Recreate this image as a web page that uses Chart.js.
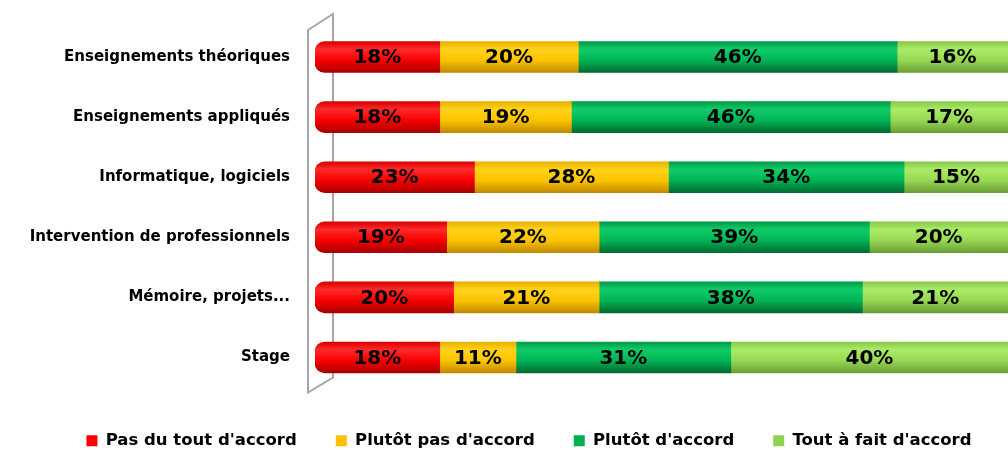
<!DOCTYPE html>
<html>
<head>
<meta charset="utf-8">
<script src="https://cdn.jsdelivr.net/npm/chart.js@4"></script>
<style>
    html, body { margin: 0; padding: 0; background: #fff; overflow: hidden; }
    #wrap { width: 1058px; height: 450px; }
</style>
</head>
<body>
<div id="wrap"><canvas id="myChart"></canvas></div>
<script>
    // Data
    var categories = ["Enseignements théoriques", "Enseignements appliqués", "Informatique, logiciels",
        "Intervention de professionnels", "Mémoire, projets...", "Stage"];
    var seriesNames = ["Pas du tout d'accord", "Plutôt pas d'accord", "Plutôt d'accord", "Tout à fait d'accord"];
    var pasDuTout = [18, 18, 23, 19, 20, 18];
    var plutotPas = [20, 19, 28, 22, 21, 11];
    var plutotAccord = [46, 46, 34, 39, 38, 31];
    var toutAFait = [16, 17, 15, 20, 21, 40];

    var FONT = "'DejaVu Sans', sans-serif";
    var BAR = 31;

    // cylinder shading: top, light, middle, bottom
    var shades = [
        ["#d80000", "#ff2a2a", "#f80000", "#a80000"],
        ["#e8b000", "#ffd21a", "#fcc400", "#c08a00"],
        ["#009a46", "#10cc68", "#00b456", "#006a30"],
        ["#86c84c", "#aaec64", "#98d854", "#6a9e34"]
    ];
    var flat = ["#ff0000", "#ffc000", "#00b050", "#92d050"];

    function cylinder(i) {
        return function (context) {
            var chart = context.chart;
            if (!chart.chartArea || context.dataIndex === undefined) return flat[i];
            var y = chart.scales.y.getPixelForValue(context.dataIndex);
            var g = chart.ctx.createLinearGradient(0, y - BAR / 2, 0, y + BAR / 2);
            g.addColorStop(0, shades[i][0]);
            g.addColorStop(0.25, shades[i][1]);
            g.addColorStop(0.6, shades[i][2]);
            g.addColorStop(1, shades[i][3]);
            return g;
        };
    }

    // back wall of the 3D frame, and nudge the legend a bit right / down
    var wallPlugin = {
        id: 'wall',
        afterLayout: function (chart) {
            var lg = chart.legend;
            lg.left += 25; lg.right += 25;
            lg.top += 6; lg.bottom += 6;
        },
        beforeDatasetsDraw: function (chart) {
            var a = chart.chartArea;
            var c = chart.ctx;
            var l = a.left - 7, r = a.left + 18;
            c.save();
            c.strokeStyle = "#a6a6a6";
            c.lineWidth = 2;
            c.beginPath();
            c.moveTo(l, a.top + 3);
            c.lineTo(r, a.top - 13);
            c.lineTo(r, a.bottom - 10);
            c.lineTo(l, a.bottom + 5);
            c.closePath();
            c.stroke();
            c.restore();
        }
    };

    // percent labels in the middle of each segment
    var labelPlugin = {
        id: 'pctLabels',
        afterDatasetsDraw: function (chart) {
            var c = chart.ctx;
            c.save();
            c.font = "bold 20px " + FONT;
            c.fillStyle = "#000";
            c.textAlign = "center";
            c.textBaseline = "middle";
            chart.data.datasets.forEach(function (ds, i) {
                chart.getDatasetMeta(i).data.forEach(function (el, j) {
                    var p = el.getProps(['x', 'y', 'base'], true);
                    c.fillText(ds.data[j] + "%", (p.x + p.base) / 2, p.y + 1);
                });
            });
            c.restore();
        }
    };

    var allSeries = [pasDuTout, plutotPas, plutotAccord, toutAFait];
    var datasets = [];
    for (var i = 0; i < allSeries.length; i++) {
        datasets.push({
            label: seriesNames[i],
            data: allSeries[i],
            backgroundColor: cylinder(i),
            borderWidth: 0,
            borderRadius: i === 0 ? { topLeft: 10, bottomLeft: 10 } : 0,
            borderSkipped: false,
            barThickness: BAR
        });
    }

    const ctx = document.getElementById('myChart');
    new Chart(ctx, {
        type: 'bar',
        data: { labels: categories, datasets: datasets },
        plugins: [wallPlugin, labelPlugin],
        options: {
            indexAxis: 'y',
            responsive: true,
            maintainAspectRatio: false,
            animation: false,
            layout: { padding: { top: 27, right: 50, bottom: -3, left: 0 } },
            scales: {
                x: {
                    stacked: true,
                    min: 0,
                    max: 100,
                    display: false
                },
                y: {
                    stacked: true,
                    grid: { display: false, drawTicks: false },
                    border: { display: false },
                    ticks: {
                        color: "#000",
                        font: { family: FONT, size: 15, weight: 'bold' },
                        padding: 25
                    },
                    afterFit: function (scale) {
                        scale.width = 315;
                        scale.paddingTop = 0;
                        scale.paddingBottom = 0;
                    }
                }
            },
            plugins: {
                legend: {
                    position: 'bottom',
                    labels: {
                        color: "#000",
                        font: { family: FONT, size: 16.5, weight: 'bold' },
                        boxWidth: 11,
                        boxHeight: 11,
                        padding: 39,
                        generateLabels: function (chart) {
                            return chart.data.datasets.map(function (ds, i) {
                                return {
                                    text: ds.label,
                                    fillStyle: flat[i],
                                    strokeStyle: flat[i],
                                    fontColor: "#000",
                                    lineWidth: 0,
                                    datasetIndex: i
                                };
                            });
                        }
                    }
                },
                tooltip: { enabled: false }
            }
        }
    });
</script>
</body>
</html>
